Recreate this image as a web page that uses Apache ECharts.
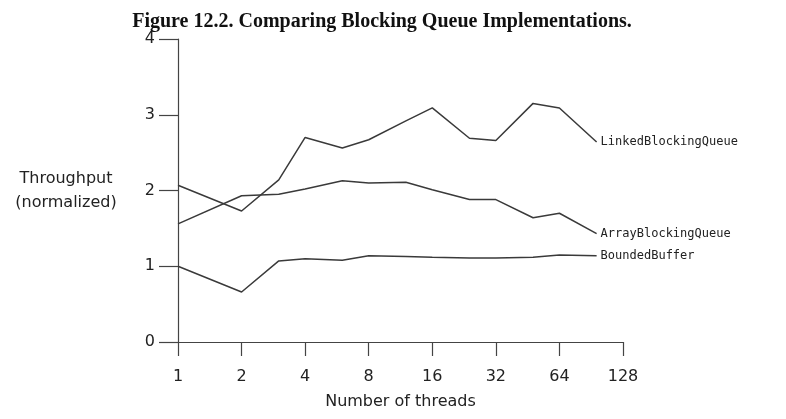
<!DOCTYPE html>
<html><head><meta charset="utf-8">
<script src="https://cdn.jsdelivr.net/npm/echarts@6/dist/echarts.min.js"></script>
<style>html,body{margin:0;padding:0;background:#fff}#c{width:786px;height:419px}</style>
</head><body><div id="c"></div>
<script>
const threads = [1, 2, 3, 4, 6, 8, 12, 16, 24, 32, 48, 64, 96];
const linkedBlockingQueue = [2.07, 1.73, 2.14, 2.70, 2.56, 2.67, 2.92, 3.09, 2.69, 2.66, 3.15, 3.09, 2.64];
const arrayBlockingQueue = [1.56, 1.93, 1.95, 2.02, 2.13, 2.10, 2.11, 2.01, 1.88, 1.88, 1.64, 1.70, 1.43];
const boundedBuffer = [1.00, 0.66, 1.07, 1.10, 1.08, 1.14, 1.13, 1.12, 1.11, 1.11, 1.12, 1.15, 1.14];
const seriesNames = ['LinkedBlockingQueue', 'ArrayBlockingQueue', 'BoundedBuffer'];
const xTicks = [1, 2, 4, 8, 16, 32, 64, 128];
const yTicks = [0, 1, 2, 3, 4];

const values = [linkedBlockingQueue, arrayBlockingQueue, boundedBuffer];
const chart = echarts.init(document.getElementById('c'));
const lineColor = '#3a3a3a';
chart.setOption({
  animation: false,
  title: {
    text: 'Figure 12.2. Comparing Blocking Queue Implementations.',
    left: 377, top: 7, textAlign: 'center',
    textStyle: {fontFamily: 'Liberation Serif', fontWeight: 'bold', fontSize: 20, color: '#111'}
  },
  grid: {left: 178, right: 163, top: 39, bottom: 77, containLabel: false},
  xAxis: {
    type: 'log', logBase: 2, min: xTicks[0], max: xTicks[xTicks.length - 1],
    name: 'Number of threads', nameLocation: 'middle', nameGap: 52,
    nameTextStyle: {fontFamily: 'DejaVu Sans', fontSize: 16, color: '#222'},
    axisLine: {lineStyle: {color: '#444', width: 1.2}},
    axisTick: {show: true, length: 14, lineStyle: {color: '#444', width: 1.2}},
    axisLabel: {fontFamily: 'DejaVu Sans', fontSize: 16, color: '#222', margin: 27,
      formatter: v => String(Math.round(v))},
    splitLine: {show: false}
  },
  yAxis: {
    type: 'value', min: yTicks[0], max: yTicks[yTicks.length - 1], interval: 1,
    name: 'Throughput\n(normalized)', nameLocation: 'middle', nameGap: 112, nameRotate: 0,
    nameTextStyle: {fontFamily: 'DejaVu Sans', fontSize: 16, color: '#222', lineHeight: 24, align: 'center'},
    axisLine: {show: true, lineStyle: {color: '#444', width: 1.2}},
    axisTick: {show: true, length: 19, lineStyle: {color: '#444', width: 1.2}},
    axisLabel: {fontFamily: 'DejaVu Sans', fontSize: 16, color: '#222', margin: 23},
    splitLine: {show: false}
  },
  series: seriesNames.map((name, i) => ({
    name, type: 'line', symbol: 'none',
    data: threads.map((t, j) => [t, values[i][j]]),
    lineStyle: {color: lineColor, width: 1.5},
    endLabel: {show: true, formatter: '{a}', distance: 4,
      fontFamily: 'DejaVu Sans Mono', fontSize: 12, color: '#222'}
  }))
});
</script></body></html>
